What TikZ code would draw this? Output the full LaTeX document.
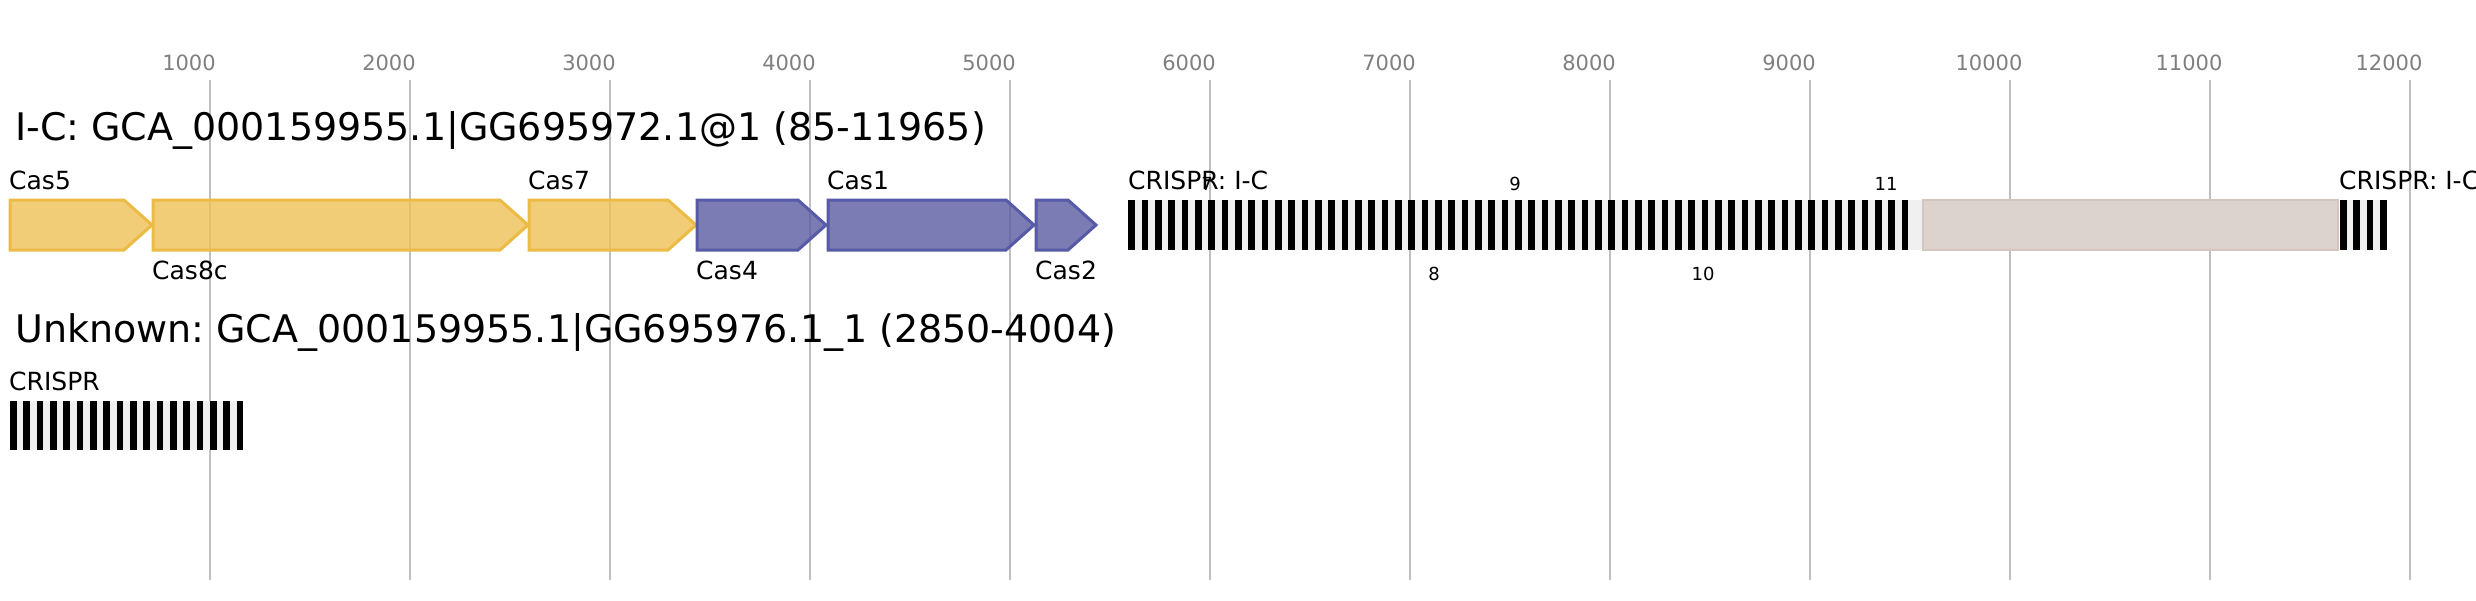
\documentclass[tikz,border=0pt]{standalone}
\usepackage{fontspec}
\setmainfont{DejaVu Sans}
\frenchspacing
\definecolor{gridgray}{RGB}{191,191,191}
\definecolor{ticktext}{RGB}{128,128,128}
\definecolor{yelfill}{RGB}{238,193,87}
\definecolor{yelline}{RGB}{236,187,69}
\definecolor{purfill}{RGB}{90,92,162}
\definecolor{purline}{RGB}{87,90,166}
\definecolor{spacergray}{RGB}{240,240,240}
\definecolor{boxfill}{RGB}{220,211,206}
\definecolor{boxline}{RGB}{211,198,190}
\tikzset{
  gridline/.style={draw=gridgray, line width=2pt},
  ticklabel/.style={inner sep=0pt, anchor=base, text=ticktext, font=\fontsize{21}{25}\selectfont},
  titletext/.style={inner sep=0pt, anchor=base west, font=\fontsize{38}{44}\selectfont},
  genelabel/.style={inner sep=0pt, anchor=base west, font=\fontsize{25}{30}\selectfont},
  smalllabel/.style={inner sep=0pt, anchor=base, font=\fontsize{18}{22}\selectfont},
  yelgene/.style={fill=yelfill, fill opacity=0.8, draw=yelline, draw opacity=1, line width=3pt},
  purgene/.style={fill=purfill, fill opacity=0.8, draw=purline, draw opacity=1, line width=3pt},
  greybox/.style={fill=boxfill, draw=boxline, line width=2pt},
}
% gene arrow: #1 start, #2 tip, #3 top y
\newcommand{\genearrow}[4]{%
  \draw[#4] (#1,#3) -- ({#2-28},#3) -- (#2,{#3+25}) -- ({#2-28},{#3+50}) -- (#1,{#3+50}) -- cycle;}
\begin{document}
\begin{tikzpicture}[x=1pt,y=-1pt]
\useasboundingbox (0,0) rectangle (2476,600);
\fill[white] (0,0) rectangle (2476,600);
% grid and tick labels
\foreach \k in {1,...,12} {
  \pgfmathsetmacro{\gx}{10+200*\k}
  \pgfmathtruncatemacro{\lab}{1000*\k}
  \coordinate (gt\k) at (\gx,80);
  \coordinate (gb\k) at (\gx,580);
  \draw[gridline] (gt\k) -- (gb\k);
  \node[ticklabel] (tick\k) at ({\gx-21},70.5) {\lab};
}
% titles
\node[titletext] (title1) at (15,140) {I-C: GCA\_000159955.1|GG695972.1@1 (85-11965)};
\node[titletext] (title2) at (15,342) {Unknown: GCA\_000159955.1|GG695976.1\_1 (2850-4004)};
% genes row 1
\genearrow{10}{152}{200}{yelgene}
\genearrow{153}{528}{200}{yelgene}
\genearrow{529}{696}{200}{yelgene}
\genearrow{697}{826}{200}{purgene}
\genearrow{828}{1034}{200}{purgene}
\genearrow{1036}{1096}{200}{purgene}
\node[genelabel] (lcas5) at (9,189) {Cas5};
\node[genelabel] (lcas8c) at (152,279) {Cas8c};
\node[genelabel] (lcas7) at (528,189) {Cas7};
\node[genelabel] (lcas4) at (696,279) {Cas4};
\node[genelabel] (lcas1) at (827,189) {Cas1};
\node[genelabel] (lcas2) at (1035,279) {Cas2};
% CRISPR array 1
\fill[spacergray] (1128,200) rectangle (1923,250);
\foreach \k in {0,...,58} {
  \pgfmathsetmacro{\bx}{1128.3+13.333*\k}
  \fill[black] (\bx,200) rectangle ({\bx+6.667},250);
}
\draw[greybox] (1923,200) rectangle (2337.5,250);
% CRISPR array 2
\fill[spacergray] (2340,200) rectangle (2386.7,250);
\foreach \k in {0,...,3} {
  \pgfmathsetmacro{\bx}{2340+13.333*\k}
  \fill[black] (\bx,200) rectangle ({\bx+6.667},250);
}
\node[genelabel] (lcrispr1) at (1128,189) {CRISPR: I-C};
\node[genelabel] (lcrispr2) at (2339,189) {CRISPR: I-C};
\node[smalllabel] (n7) at (1207,190) {7};
\node[smalllabel] (n9) at (1515,190) {9};
\node[smalllabel] (n11) at (1886,190) {11};
\node[smalllabel] (n8) at (1434,280) {8};
\node[smalllabel] (n10) at (1703,280) {10};
% row 2 CRISPR
\fill[spacergray] (10,401) rectangle (243.3,450);
\foreach \k in {0,...,17} {
  \pgfmathsetmacro{\bx}{10+13.333*\k}
  \fill[black] (\bx,401) rectangle ({\bx+6.667},450);
}
\node[genelabel] (lcrispr3) at (9,390) {CRISPR};
\end{tikzpicture}
\end{document}
